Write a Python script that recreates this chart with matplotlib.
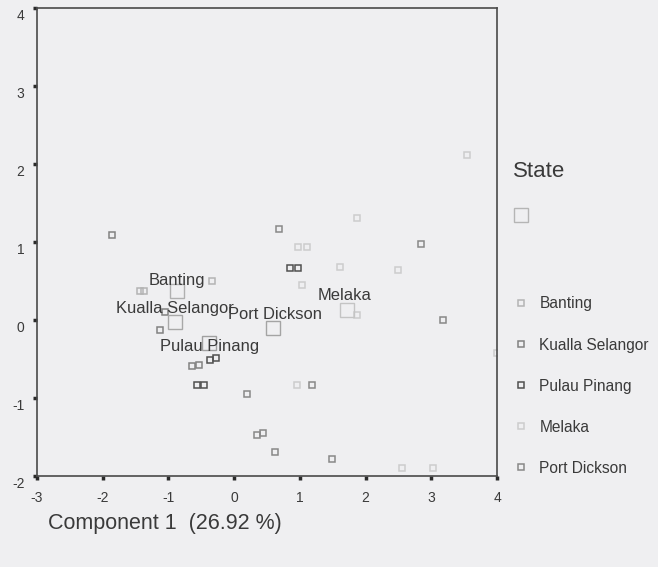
import matplotlib
matplotlib.use("Agg")
import matplotlib.pyplot as plt
from matplotlib.lines import Line2D
from matplotlib.transforms import ScaledTranslation

plt.rcParams['font.family'] = ['Liberation Sans', 'DejaVu Sans']
plt.rcParams['axes.unicode_minus'] = False

# Object scores on the first two components, by state
states = ["Banting", "Kualla Selangor", "Pulau Pinang", "Melaka", "Port Dickson"]

banting_x = [-0.34, -1.43, -1.37]
banting_y = [0.50, 0.37, 0.37]

kualla_x = [-1.86, -1.13, -1.05, -0.64, -0.53]
kualla_y = [1.09, -0.13, 0.10, -0.59, -0.58]

pulau_x = [-0.56, -0.46, -0.37, -0.28, 0.85, 0.97]
pulau_y = [-0.83, -0.83, -0.51, -0.49, 0.67, 0.67]

melaka_x = [0.97, 1.11, 2.49, 1.87, 3.54, 1.03, 1.87, 2.56, 3.03, 4.00, 0.96, 1.61]
melaka_y = [0.94, 0.94, 0.64, 1.31, 2.12, 0.45, 0.06, -1.90, -1.90, -0.42, -0.83, 0.68]

port_x = [0.68, 2.84, 3.18, 0.20, 1.19, 0.35, 0.44, 0.62, 1.49]
port_y = [1.17, 0.97, 0.00, -0.95, -0.83, -1.47, -1.45, -1.69, -1.78]

# Group centroids (same order as states)
centroid_x = [-0.87, -0.90, -0.38, 1.72, 0.59]
centroid_y = [0.37, -0.03, -0.29, 0.13, -0.10]

x_ticks = [-3, -2, -1, 0, 1, 2, 3, 4]
y_ticks = [-2, -1, 0, 1, 2, 3, 4]
x_label = "Component 1  (26.92 %)"

# Styling
bg = "#efeff1"
ink = "#3a3a3a"
point_colors = ["#b4b4b4", "#828282", "#505050", "#cdcdcd", "#888888"]
centroid_colors = ["#b0b0b0", "#a8a8a8", "#a0a0a0", "#c4c4c4", "#a4a4a4"]
label_offsets = [(0, 11), (0, 14), (0, -4), (-3, 14), (2, 13)]  # pixels

fig = plt.figure(figsize=(6.58, 5.67), dpi=100, facecolor=bg)
ax = fig.add_axes([37 / 658, 1 - 476 / 567, 460 / 658, 468 / 567])
ax.set_facecolor(bg)

series = [(banting_x, banting_y), (kualla_x, kualla_y), (pulau_x, pulau_y),
          (melaka_x, melaka_y), (port_x, port_y)]
for (xs, ys), c in zip(series, point_colors):
    ax.plot(xs, ys, linestyle="none", marker="s", markersize=5,
            markerfacecolor="none", markeredgecolor=c, markeredgewidth=1.1)

for cx, cy, c in zip(centroid_x, centroid_y, centroid_colors):
    ax.plot([cx], [cy], linestyle="none", marker="s", markersize=9.5,
            markerfacecolor="none", markeredgecolor=c, markeredgewidth=1.0)

for name, cx, cy, (dx, dy) in zip(states, centroid_x, centroid_y, label_offsets):
    ax.annotate(name, (cx, cy), xytext=(dx * 0.72, dy * 0.72),
                textcoords="offset points", ha="center", va="center",
                fontsize=11.9, color=ink)

ax.set_xlim(-3, 4)
ax.set_ylim(-2, 4)
ax.set_xticks(x_ticks)
ax.set_yticks(y_ticks)
ax.tick_params(direction="out", length=3, width=2.5, colors="#2a2a2a",
               labelsize=10, labelcolor=ink, pad=6)
ax.tick_params(axis="x", pad=8)
for s in ax.spines.values():
    s.set_color("#4a4a4a")
    s.set_linewidth(1.2)

# y tick labels sit slightly below their ticks
shift = ScaledTranslation(0, -0.07, fig.dpi_scale_trans)
for lab in ax.get_yticklabels():
    lab.set_transform(lab.get_transform() + shift)

fig.text(48 / 658, 1 - 523 / 567, x_label, fontsize=15.5, color=ink,
         ha="left", va="center")

# Legend: centroid symbol, a blank row, then one row per state
handles = [Line2D([], [], linestyle="none", marker="s", markersize=9.5,
                  markerfacecolor="none", markeredgecolor="#b5b5b5",
                  markeredgewidth=1.0),
           Line2D([], [], linestyle="none")]
labels = ["", " "]
for name, c in zip(states, point_colors):
    handles.append(Line2D([], [], linestyle="none", marker="s", markersize=5,
                          markerfacecolor="none", markeredgecolor=c,
                          markeredgewidth=1.1))
    labels.append(name)

leg = fig.legend(handles, labels, title="State", loc="upper left",
                 bbox_to_anchor=(513 / 658, 1 - 161 / 567), frameon=False,
                 fontsize=11.2, title_fontsize=16, labelspacing=1.68,
                 handlelength=1.0, handletextpad=0.7, borderaxespad=0,
                 borderpad=0)
leg._legend_box.align = "left"
for t in leg.get_texts():
    t.set_color(ink)
leg.get_texts()[1].set_fontsize(15.5)
leg.get_title().set_color(ink)

fig.savefig("out.png", dpi=100, facecolor=bg)
